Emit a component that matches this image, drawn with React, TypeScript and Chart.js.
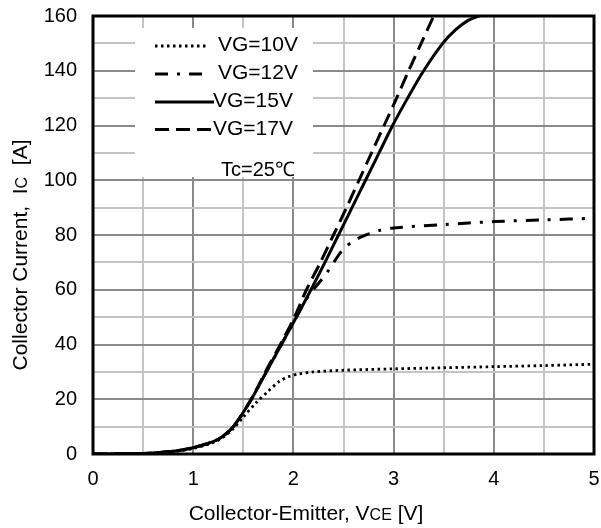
import React, { useEffect, useRef } from "react";
import { Chart, registerables } from "chart.js";

Chart.register(...registerables);

// ---- data ----
const vce10 = [0, 0.5, 0.75, 1.0, 1.25, 1.4, 1.5, 1.63, 1.75, 1.86, 1.95, 2.05, 2.2, 2.5, 3.0, 3.5, 4.0, 4.5, 5.0];
const ic10 = [0, 0.2, 0.7, 2.0, 5.0, 9.2, 13.5, 18.8, 23, 26.5, 28.2, 29.2, 30.0, 30.6, 31.1, 31.5, 31.9, 32.3, 32.8];

const vce12 = [0, 0.5, 0.75, 1.0, 1.25, 1.4, 1.58, 1.73, 1.88, 2.03, 2.12, 2.21, 2.33, 2.49, 2.6, 2.69, 2.86, 3.0, 3.5, 4.0, 4.5, 5.0];
const ic12 = [0, 0.2, 0.8, 2.3, 5.4, 10, 20, 30, 40, 50, 56, 60.5, 66, 74.5, 77.8, 79.5, 81.7, 82.6, 83.8, 84.9, 85.5, 86.1];

const vce15 = [0, 0.5, 0.75, 1.0, 1.25, 1.4, 1.58, 1.73, 1.88, 2.03, 2.175, 2.315, 2.45, 2.585, 2.72, 2.855, 2.99, 3.14, 3.3, 3.49, 3.62, 3.74, 3.85, 3.95];
const ic15 = [0, 0.2, 0.8, 2.3, 5.4, 10, 20, 30, 40, 50, 60, 70, 80, 90, 100, 110, 120, 130, 140, 150, 155, 158.3, 160, 160.8];

const vce17 = [0, 0.5, 0.75, 1.0, 1.25, 1.4, 1.58, 1.72, 1.87, 2.01, 2.13, 2.27, 2.4, 2.53, 2.655, 2.78, 2.905, 3.03, 3.15, 3.275, 3.4, 3.5];
const ic17 = [0, 0.2, 0.8, 2.3, 5.4, 10, 20, 30, 40, 50, 60, 70, 80, 90, 100, 110, 120, 130, 140, 150, 160, 168];

const seriesNames = ["VG=10V", "VG=12V", "VG=15V", "VG=17V"];
const noteText = "Tc=25\u2103";
const xMin = 0, xMax = 5, xStep = 0.5, xLabelStep = 1;
const yMin = 0, yMax = 160, yStep = 10, yLabelStep = 20;
const xTitleRuns = [["Collector-Emitter, V", 0], ["CE", 1], [" [V]", 0]] as [string, number][];
const yTitleRuns = [["Collector Current,  I", 0], ["C", 1], ["  [A]", 0]] as [string, number][];

// ---- styles / layout ----
const FONT = "'Liberation Sans', Arial, sans-serif";
const dashes = [[2.5, 3.5], [13, 9, 3, 9], [], [14, 7]];
const widths = [2.8, 3, 3, 3];
const legendRowY = [45.5, 73.5, 101.5, 129];
const legendTextX = [218, 218, 213, 213];
const legendLineEnd = [208, 204, 214, 212];

function toPts(xs: number[], ys: number[]) {
  return xs.map((x, i) => ({ x, y: ys[i] }));
}

function drawRuns(ctx: CanvasRenderingContext2D, runs: [string, number][], cx: number, baseY: number, big: number, small: number) {
  let total = 0;
  const ws = runs.map(([t, s]) => {
    ctx.font = `${s ? small : big}px ${FONT}`;
    const w = ctx.measureText(t).width;
    total += w;
    return w;
  });
  let x = cx - total / 2;
  ctx.textAlign = "left";
  ctx.textBaseline = "alphabetic";
  runs.forEach(([t, s], i) => {
    ctx.font = `${s ? small : big}px ${FONT}`;
    ctx.fillText(t, x, baseY);
    x += ws[i];
  });
}

const decor = {
  id: "decor",
  beforeDatasetsDraw(chart: any) {
    const ctx = chart.ctx as CanvasRenderingContext2D;
    ctx.save();
    ctx.fillStyle = "#ffffff";
    ctx.fillRect(135, 28, 313 - 135, 177 - 28);
    ctx.restore();
  },
  afterDraw(chart: any) {
    const ctx = chart.ctx as CanvasRenderingContext2D;
    const a = chart.chartArea;
    ctx.save();
    // frame
    ctx.strokeStyle = "#000";
    ctx.lineWidth = 3;
    ctx.setLineDash([]);
    ctx.strokeRect(a.left, a.top, a.right - a.left, a.bottom - a.top);
    // legend
    seriesNames.forEach((name, i) => {
      const y = legendRowY[i];
      ctx.beginPath();
      ctx.setLineDash(dashes[i]);
      ctx.lineWidth = widths[i];
      ctx.strokeStyle = "#000";
      ctx.moveTo(155, y + 0.5);
      ctx.lineTo(legendLineEnd[i], y + 0.5);
      ctx.stroke();
      ctx.setLineDash([]);
      ctx.fillStyle = "#000";
      ctx.font = `21px ${FONT}`;
      ctx.textAlign = "left";
      ctx.textBaseline = "middle";
      ctx.fillText(name, legendTextX[i], y);
    });
    ctx.font = `20px ${FONT}`;
    ctx.fillText(noteText, 221, 170);
    // axis titles
    ctx.fillStyle = "#000";
    drawRuns(ctx, xTitleRuns, 306, 520, 21, 16);
    ctx.save();
    ctx.translate(27, 255);
    ctx.rotate(-Math.PI / 2);
    drawRuns(ctx, yTitleRuns, 0, 0, 21, 16);
    ctx.restore();
    ctx.restore();
  },
};

export default function App() {
  const ref = useRef<HTMLCanvasElement | null>(null);
  useEffect(() => {
    if (!ref.current) return;
    const mk = (i: number, xs: number[], ys: number[]) => ({
      label: seriesNames[i],
      data: toPts(xs, ys),
      borderColor: "#000",
      backgroundColor: "#000",
      borderWidth: widths[i],
      borderDash: dashes[i],
      pointRadius: 0,
      fill: false,
      tension: 0.3,
      borderCapStyle: "butt" as const,
    });
    const chart = new Chart(ref.current, {
      type: "line",
      data: {
        datasets: [mk(0, vce10, ic10), mk(1, vce12, ic12), mk(2, vce15, ic15), mk(3, vce17, ic17)],
      },
      options: {
        responsive: false,
        animation: false,
        layout: { padding: { left: 0, top: 16, right: 7, bottom: 0 } },
        plugins: { legend: { display: false }, tooltip: { enabled: false } },
        scales: {
          x: {
            type: "linear",
            min: xMin,
            max: xMax,
            afterFit: (s: any) => {
              s.height = 74;
              s.paddingLeft = 0;
              s.paddingRight = 0;
              s.paddingTop = 0;
              s.paddingBottom = 0;
            },
            border: { display: false },
            grid: {
              drawTicks: false,
              lineWidth: 2,
              color: (c: any) => (Math.abs(c.tick.value / xLabelStep - Math.round(c.tick.value / xLabelStep)) < 1e-6 ? "#8a8a8a" : "#c4c4c4"),
            },
            ticks: {
              stepSize: xStep,
              autoSkip: false,
              maxRotation: 0,
              padding: 13,
              color: "#000",
              font: { family: FONT, size: 20 },
              callback: (v: any) => (Math.abs(v / xLabelStep - Math.round(v / xLabelStep)) < 1e-6 ? String(v) : ""),
            },
          },
          y: {
            type: "linear",
            min: yMin,
            max: yMax,
            afterFit: (s: any) => {
              s.width = 93;
              s.paddingLeft = 0;
              s.paddingRight = 0;
              s.paddingTop = 0;
              s.paddingBottom = 0;
            },
            border: { display: false },
            grid: {
              drawTicks: false,
              lineWidth: 2,
              color: (c: any) => (c.tick.value % yLabelStep === 0 ? "#8a8a8a" : "#c4c4c4"),
            },
            ticks: {
              stepSize: yStep,
              autoSkip: false,
              padding: 16,
              color: "#000",
              font: { family: FONT, size: 20 },
              callback: (v: any) => (v % yLabelStep === 0 ? String(v) : ""),
            },
          },
        },
      },
      plugins: [decor],
    });
    return () => chart.destroy();
  }, []);
  return (
    <div style={{ position: "absolute", left: 0, top: 0, width: 601, height: 528, background: "#fff" }}>
      <canvas ref={ref} width={601} height={528} />
    </div>
  );
}
